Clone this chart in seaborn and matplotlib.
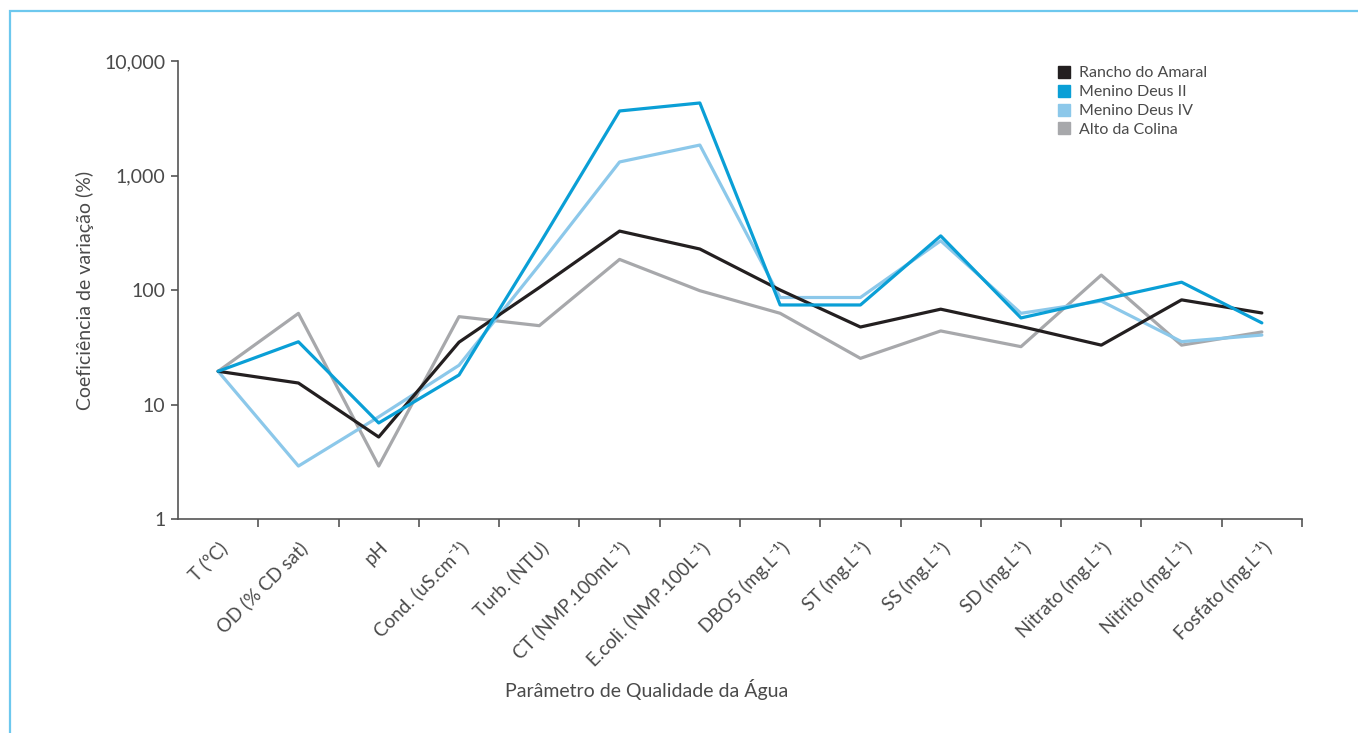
import numpy as np
import pandas as pd
import matplotlib
matplotlib.use("Agg")
import matplotlib.pyplot as plt
from matplotlib.lines import Line2D
from matplotlib.patches import Rectangle
from matplotlib.ticker import FixedLocator
import seaborn as sns

categories = ["T (ºC)", "OD (% CD sat)", "pH", "Cond. (uS.cm⁻¹)", "Turb. (NTU)",
              "CT (NMP.100mL⁻¹)", "E.coli. (NMP.100L⁻¹)", "DBO5 (mg.L⁻¹)",
              "ST (mg.L⁻¹)", "SS (mg.L⁻¹)", "SD (mg.L⁻¹)",
              "Nitrato (mg.L⁻¹)", "Nitrito (mg.L⁻¹)", "Fosfato (mg.L⁻¹)"]

rancho_do_amaral = [19.5, 15.4, 5.2, 35, 105, 327, 228, 100, 47.5, 68, 48, 33, 82, 63]
menino_deus_ii = [19.5, 35.3, 6.9, 18.1, 250, 3660, 4300, 74, 74, 297, 57, 82, 117, 51.6]
menino_deus_iv = [19.5, 2.9, 7.8, 22, 165, 1313, 1845, 86, 86, 269, 62.6, 80, 35.4, 40.4]
alto_da_colina = [19.5, 62.5, 2.9, 58.5, 48.8, 185, 98.6, 62.6, 25.3, 43.9, 32, 135, 33, 43]

series_names = ["Rancho do Amaral", "Menino Deus II", "Menino Deus IV", "Alto da Colina"]
series_values = [rancho_do_amaral, menino_deus_ii, menino_deus_iv, alto_da_colina]
colors = {"Rancho do Amaral": "#231f20", "Menino Deus II": "#0a9fd6",
          "Menino Deus IV": "#8cc8ea", "Alto da Colina": "#a7a8ab"}

y_ticks = [1, 10, 100, 1000, 10000]
y_tick_labels = ["1", "10", "100", "1,000", "10,000"]

rows = []
for name, vals in zip(series_names, series_values):
    for i, v in enumerate(vals):
        rows.append({"idx": i, "value": v, "series": name})
df = pd.DataFrame(rows)

sns.set_style("white")
plt.rcParams['font.family'] = ['Lato', 'DejaVu Sans']

fig = plt.figure(figsize=(13.58, 7.33), dpi=100)
ax = fig.add_axes([178/1358, 1 - 519/733, (1302-178)/1358, (519-61)/733])

draw_order = ["Alto da Colina", "Menino Deus IV", "Rancho do Amaral", "Menino Deus II"]
for z, name in enumerate(draw_order):
    sub = df[df["series"] == name]
    sns.lineplot(data=sub, x="idx", y="value", color=colors[name], lw=2.3,
                 ax=ax, sort=False, legend=False, zorder=2 + z)

ax.set_yscale("log")
ax.set_ylim(1, 10000)
ax.set_xlim(-0.5, len(categories) - 0.5)

txt_color = "#4a4a4a"
spine_color = "#555555"
for s in ["top", "right"]:
    ax.spines[s].set_visible(False)
for s in ["left", "bottom"]:
    ax.spines[s].set_color(spine_color)
    ax.spines[s].set_linewidth(1.2)

ax.yaxis.set_major_locator(FixedLocator(y_ticks))
ax.yaxis.set_minor_locator(FixedLocator([]))
ax.set_yticklabels(y_tick_labels)
ax.tick_params(axis="y", which="major", length=5, width=1.2, color=spine_color,
               labelsize=14, labelcolor=txt_color, pad=4, left=True)

ax.set_xticks(range(len(categories)))
ax.set_xticklabels(categories, rotation=45, ha="right", rotation_mode="anchor")
ax.xaxis.set_minor_locator(FixedLocator(np.arange(len(categories)) + 0.5))
ax.tick_params(axis="x", which="major", length=0, labelsize=13.5, labelcolor=txt_color, pad=14)
ax.tick_params(axis="x", which="minor", length=6, width=1.2, color=spine_color, bottom=True)

ax.set_xlabel("")
ax.set_ylabel("")
fig.text(647/1358, 1 - 690/733, "Parâmetro de Qualidade da Água", ha="center", va="center",
         fontsize=14, color=txt_color)
fig.text(85/1358, 1 - 290/733, "Coeficiência de variação (%)", ha="center", va="center",
         rotation=90, fontsize=14, color=txt_color)

handles = [Line2D([0], [0], marker="s", linestyle="none", markersize=9,
                  markerfacecolor=colors[n], markeredgecolor=colors[n]) for n in series_names]
leg = ax.legend(handles, series_names, loc="upper left", bbox_to_anchor=(1050/1358, 1 - 58/733),
                bbox_transform=fig.transFigure, frameon=False, fontsize=11.5,
                handlelength=0.8, handletextpad=0.5, labelspacing=0.3, borderpad=0)
for t in leg.get_texts():
    t.set_color(txt_color)

border = Rectangle((10/1358, -0.01), 1.1, 1 - 11/733 + 0.01, transform=fig.transFigure,
                   fill=False, edgecolor="#6dc8ee", linewidth=1.6, clip_on=False)
fig.add_artist(border)

fig.savefig("out.png", dpi=100)
